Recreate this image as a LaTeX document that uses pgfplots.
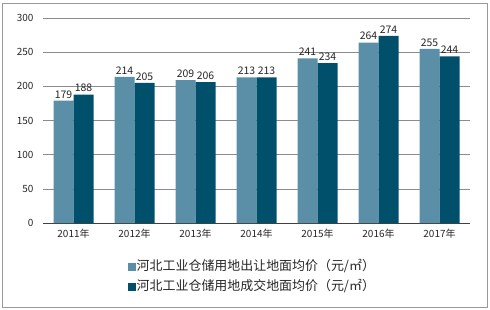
\documentclass[border=0pt]{standalone}
\usepackage{fontspec}
\setmainfont{Noto Sans CJK SC}
\usepackage{pgfplots}
\pgfplotsset{compat=1.18}
\definecolor{serA}{HTML}{5B8FA8}
\definecolor{serB}{HTML}{00506B}
\definecolor{gridc}{HTML}{8C8C8C}
\begin{document}
\begin{tikzpicture}[x=1bp,y=1bp]
\useasboundingbox (0,0) rectangle (490,309);
\draw[gray!80, line width=0.8bp] (2,2) rectangle (487,306);
\begin{axis}[
  at={(43bp,86bp)}, anchor=south west,
  scale only axis, width=427bp, height=205bp,
  ybar=0pt, bar width=20bp,
  xmin=-0.5, xmax=6.5, ymin=0, ymax=300,
  xtick=data,
  xticklabels={2011年,2012年,2013年,2014年,2015年,2016年,2017年},
  ytick={0,50,100,150,200,250,300},
  ymajorgrids, grid style={gridc, line width=0.6bp},
  axis x line*=bottom, axis y line*=left,
  y axis line style={draw=none},
  x axis line style={black!75, line width=0.8bp, -},
  major tick length=0pt,
  tick label style={font=\fontsize{10}{12}\selectfont, text=black!85},
  yticklabel style={xshift=-6bp},
  xticklabel style={yshift=-3bp},
  /pgf/number format/assume math mode=true,
  nodes near coords,
  every node near coord/.append style={font=\fontsize{10.5}{12}\selectfont, text=black!85, yshift=-1bp},
  legend style={at={(0.198,-0.18)}, anchor=north west, draw=none, fill=none,
    font=\fontsize{13}{14}\selectfont, text=black!85, row sep=5.5bp, inner sep=0bp,
    nodes={inner sep=1bp, text height=9.5bp, text depth=2.5bp}},
  legend cell align=left,
  legend image code/.code={\fill[#1] (0bp,-4bp) rectangle (8bp,4bp);},
]
\addplot[fill=serA, draw=none] coordinates {(0,179) (1,214) (2,209) (3,213) (4,241) (5,264) (6,255)};
\addplot[fill=serB, draw=none] coordinates {(0,188) (1,205) (2,206) (3,213) (4,234) (5,274) (6,244)};
\legend{河北工业仓储用地出让地面均价（元/㎡）, 河北工业仓储用地成交地面均价（元/㎡）}
\end{axis}
\end{tikzpicture}
\end{document}
